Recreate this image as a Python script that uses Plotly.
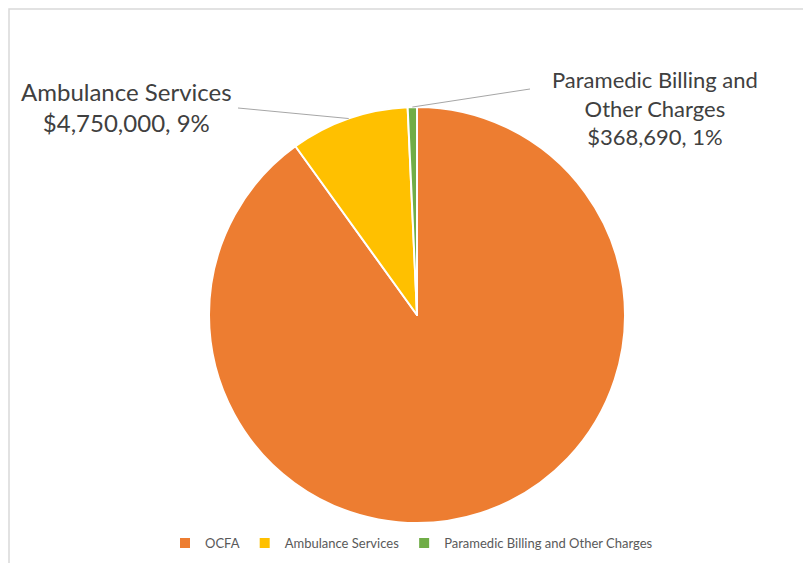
import math
import plotly.graph_objects as go

categories = ["OCFA", "Ambulance Services", "Paramedic Billing and Other Charges"]
values = [46400000, 4750000, 368690]
colors = ["#ED7D31", "#FFC000", "#70AD47"]
label_names = {"Ambulance Services": "Ambulance Services",
               "Paramedic Billing and Other Charges": "Paramedic Billing and<br>Other Charges"}
pct_labels = {"Ambulance Services": "9%", "Paramedic Billing and Other Charges": "1%"}

OFF = 8  # page body margin
W, H = 811 - OFF, 563 - OFF
L, T, S = 209 - OFF, 107 - OFF, 416  # plot square (figure coords): left, top, size

fig = go.Figure(go.Pie(
    labels=categories, values=values, sort=False, direction="clockwise", rotation=0,
    marker=dict(colors=colors, line=dict(color="white", width=2)),
    textinfo="none", hoverinfo="label+value+percent",
))

def px2paper(px, py):
    # px, py: screen pixel coordinates
    return (px - OFF - L) / S, (T + S - (py - OFF)) / S

total = sum(values)
cum = 0
label_pos = {
    "Ambulance Services": dict(end=(238, 108), text=(126, 107), size=24),
    "Paramedic Billing and Other Charges": dict(end=(530, 89), text=(655, 108), size=22),
}
shapes = []
annotations = []
for cat, v in zip(categories, values):
    mid = 2 * math.pi * (cum + v / 2) / total
    cum += v
    if cat not in label_pos:
        continue
    ex, ey = 0.5 + 0.5 * math.sin(mid), 0.5 + 0.5 * math.cos(mid)
    ox, oy = px2paper(*label_pos[cat]["end"])
    shapes.append(dict(type="line", xref="paper", yref="paper", x0=ex, y0=ey, x1=ox, y1=oy,
                       line=dict(color="#A6A6A6", width=1)))
    tx, ty = px2paper(*label_pos[cat]["text"])
    annotations.append(dict(
        xref="paper", yref="paper", x=tx, y=ty, xanchor="center", yanchor="middle",
        showarrow=False, align="center",
        text=f"{label_names[cat]}<br>${v:,.0f}, {pct_labels[cat]}",
        font=dict(family="Lato, Open Sans, sans-serif", size=label_pos[cat]["size"], color="#404040"),
    ))

# chart border
bx0, by1 = px2paper(9, 9)
bx1, by0 = px2paper(900, 650)
shapes.append(dict(type="rect", xref="paper", yref="paper", x0=bx0, y0=by0, x1=bx1, y1=by1,
                   line=dict(color="#D9D9D9", width=1.5), layer="below"))

lgx, lgy = px2paper(165, 528)
fig.update_layout(
    width=W, height=H,
    margin=dict(l=L, r=W - L - S, t=T, b=H - T - S, autoexpand=False),
    paper_bgcolor="white", plot_bgcolor="white",
    showlegend=True,
    legend=dict(orientation="h", x=lgx, xanchor="left", y=lgy, yanchor="top",
                font=dict(family="Lato, Open Sans, sans-serif", size=13, color="#595959"),
                itemwidth=30, tracegroupgap=0),
    shapes=shapes, annotations=annotations,
)

fig.write_html("out.html")
